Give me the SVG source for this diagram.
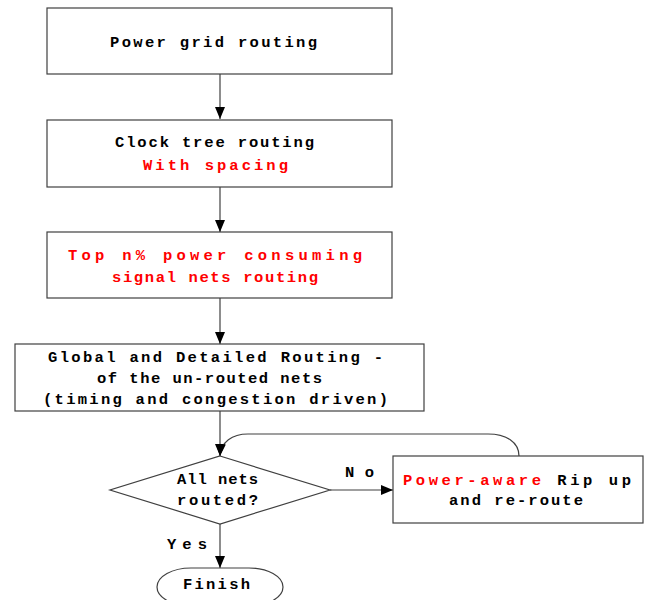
<svg xmlns="http://www.w3.org/2000/svg" width="647" height="600" viewBox="0 0 647 600">
<style>
.box{fill:#fff;stroke:#404040;stroke-width:1.2}
.t{font-family:"Liberation Mono","DejaVu Sans Mono",monospace;font-weight:bold;font-size:15.5px;fill:#000}
.r{fill:#ff0000}
.c{fill:none;stroke:#404040;stroke-width:1.2}
</style>
<defs>
<marker id="ah" markerUnits="userSpaceOnUse" markerWidth="12" markerHeight="12" viewBox="0 0 12 12" refX="12" refY="6" orient="auto">
<path d="M0,1 L12,6 L0,11 Z" fill="#000"/>
</marker>
</defs>
<rect width="647" height="600" fill="#fff"/>
<g id="connectors">
<line class="c" x1="220" y1="74" x2="220" y2="119" marker-end="url(#ah)"/>
<line class="c" x1="220" y1="187" x2="220" y2="232" marker-end="url(#ah)"/>
<line class="c" x1="220" y1="298" x2="220" y2="344" marker-end="url(#ah)"/>
<line class="c" x1="220" y1="411" x2="220" y2="456" marker-end="url(#ah)"/>
<path class="c" d="M519,456 C519,442 506,434 488,434 L248,434 C232,434 221,442 220,456" marker-end="url(#ah)"/>
<line class="c" x1="330" y1="490" x2="393" y2="490" marker-end="url(#ah)"/>
<line class="c" x1="220" y1="524" x2="220" y2="568" marker-end="url(#ah)"/>
<text class="t" x="345" y="477" textLength="29" lengthAdjust="spacing">No</text>
<text class="t" x="167" y="549" textLength="40" lengthAdjust="spacing">Yes</text>
</g>
<g id="n1">
<rect class="box" x="47" y="8" width="345" height="66"/>
<text class="t" x="110" y="47" textLength="207" lengthAdjust="spacing">Power grid routing</text>
</g>
<g id="n2">
<rect class="box" x="47" y="120" width="345" height="67"/>
<text class="t" x="115" y="147" textLength="199" lengthAdjust="spacing">Clock tree routing</text>
<text class="t r" x="143" y="170" textLength="145" lengthAdjust="spacing">With spacing</text>
</g>
<g id="n3">
<rect class="box" x="47" y="232" width="345" height="66"/>
<text class="t r" x="68" y="260" textLength="294" lengthAdjust="spacing">Top n% power consuming</text>
<text class="t r" x="112" y="282" textLength="206" lengthAdjust="spacing">signal nets routing</text>
</g>
<g id="n4">
<rect class="box" x="15" y="344" width="409" height="67"/>
<text class="t" x="48" y="362" textLength="335" lengthAdjust="spacing">Global and Detailed Routing -</text>
<text class="t" x="97" y="383" textLength="225" lengthAdjust="spacing">of the un-routed nets</text>
<text class="t" x="43" y="404" textLength="345" lengthAdjust="spacing">(timing and congestion driven)</text>
</g>
<g id="n5">
<polygon class="box" points="220,456 330,490 220,524 110,490"/>
<text class="t" x="177" y="484" textLength="81" lengthAdjust="spacing">All nets</text>
<text class="t" x="177" y="505" textLength="81" lengthAdjust="spacing">routed?</text>
</g>
<g id="n6">
<rect class="box" x="393" y="456" width="250" height="67"/>
<text class="t" x="403" y="485" textLength="228" lengthAdjust="spacing"><tspan class="r">Power-aware</tspan> Rip up</text>
<text class="t" x="449" y="505" textLength="134" lengthAdjust="spacing">and re-route</text>
</g>
<g id="n7">
<rect class="box" x="157" y="568" width="126" height="38" rx="34" ry="19"/>
<text class="t" x="183" y="589" textLength="67" lengthAdjust="spacing">Finish</text>
</g>
</svg>
